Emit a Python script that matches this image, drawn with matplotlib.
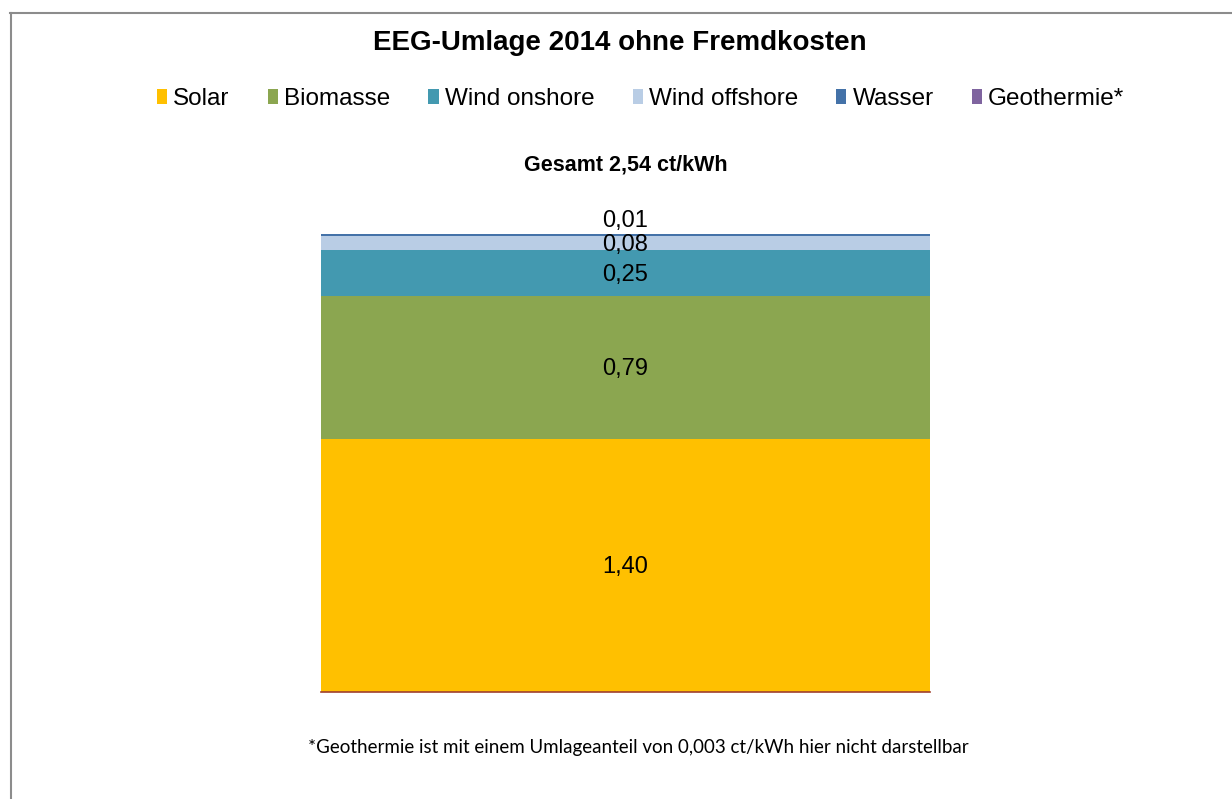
import matplotlib
matplotlib.use('Agg')
import matplotlib.pyplot as plt
from matplotlib.lines import Line2D

# EEG-Umlage 2014, ct/kWh
sources = ['Solar', 'Biomasse', 'Wind onshore', 'Wind offshore', 'Wasser', 'Geothermie*']
values = [1.40, 0.79, 0.25, 0.08, 0.01, 0.003]
labels = ['1,40', '0,79', '0,25', '0,08', '0,01', '']
colors = ['#FFC000', '#8BA650', '#4399B0', '#B9CDE5', '#4472A8', '#7F649F']

plt.rcParams['font.family'] = ['Liberation Sans', 'DejaVu Sans']

fig = plt.figure(figsize=(12.32, 7.99), dpi=100)
ax = fig.add_axes([321 / 1232, 1 - 692 / 799, 609 / 1232, (692 - 234) / 799])

bottom = 0
for name, val, lab, col in zip(sources, values, labels, colors):
    # Geothermie ist zu klein, wird nicht gezeichnet (nur Legende)
    h = val if val >= 0.005 else 0
    ax.bar(0, h, width=1.0, bottom=bottom, color=col, label=name, linewidth=0)
    if lab:
        y = bottom + val / 2
        dy = -1.5
        if val < 0.05:
            dy = 10  # Beschriftung ueber dem Balken
        ax.annotate(lab, (0, y), xytext=(0, dy), textcoords='offset points',
                    ha='center', va='center', fontsize=17, color='black')
    bottom += h

ax.set_xlim(-0.5, 0.5)
ax.set_ylim(0, bottom)
ax.set_xticks([])
ax.set_yticks([])
for s in ['top', 'left', 'right']:
    ax.spines[s].set_visible(False)
ax.spines['bottom'].set_color('#A0402D')
ax.spines['bottom'].set_linewidth(1.2)
ax.patch.set_alpha(0)

fig.text(0.503, 1 - 43 / 799, 'EEG-Umlage 2014 ohne Fremdkosten', ha='center', va='center',
         fontsize=20, fontweight='bold')
fig.text(0.508, 1 - 165 / 799, 'Gesamt 2,54 ct/kWh', ha='center', va='center',
         fontsize=15.5, fontweight='bold')

handles, hlabels = ax.get_legend_handles_labels()
fig.legend(handles, hlabels,
           loc='center', bbox_to_anchor=(0.520, 1 - 99 / 799), ncol=6, frameon=False,
           fontsize=17.5, handlelength=0.42, handleheight=0.55, handletextpad=0.25,
           columnspacing=1.57)

fig.text(0.518, 1 - 748 / 799,
         '*Geothermie ist mit einem Umlageanteil von 0,003 ct/kWh hier nicht darstellbar',
         ha='center', va='center', fontsize=13.5, family=['Lato', 'DejaVu Sans'])

# Rahmen (nur oben und links sichtbar)
fig.add_artist(Line2D([10 / 1232, 1], [1 - 13 / 799, 1 - 13 / 799], color='#8C8C8C', lw=1.5))
fig.add_artist(Line2D([11 / 1232, 11 / 1232], [0, 1 - 13 / 799], color='#8C8C8C', lw=1.5))

fig.savefig('out.png', dpi=100, facecolor='white')
